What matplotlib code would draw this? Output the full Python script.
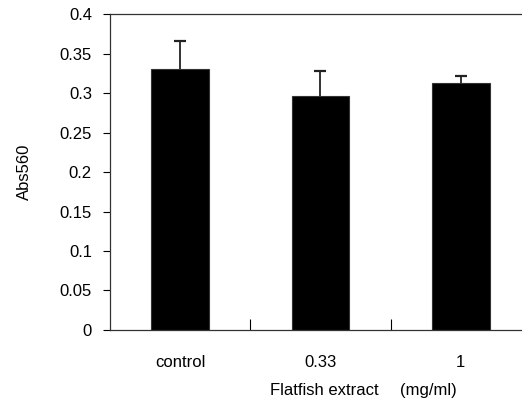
import matplotlib.pyplot as plt
import numpy as np

plt.rcParams["font.family"] = ["Liberation Sans", "DejaVu Sans"]

# Data
CATEGORIES = ["control", "0.33", "1"]
MEANS = [0.330, 0.296, 0.313]
ERRORS = [0.036, 0.032, 0.009]
Y_TICKS = [0, 0.05, 0.1, 0.15, 0.2, 0.25, 0.3, 0.35, 0.4]
Y_TICK_LABELS = ["0", "0.05", "0.1", "0.15", "0.2", "0.25", "0.3", "0.35", "0.4"]


def plot_absorbance():
    fig = plt.figure(figsize=(5.22, 4.05), dpi=100)
    ax = fig.add_axes([0.2107, 0.1852, 0.8065, 0.7802])

    x = np.arange(len(CATEGORIES))
    means = np.array(MEANS)
    tops = means + np.array(ERRORS)
    ax.bar(x, means, width=0.41, color="black", edgecolor="#333333", linewidth=0.8)

    # upper-only error bars
    ax.vlines(x, means, tops, color="#222222", linewidth=1.3)
    ax.plot(x, tops, linestyle="none", marker="_", markersize=8,
            markeredgewidth=1.6, color="#222222")

    ax.set_xlim(-0.5, len(CATEGORIES) - 0.5)
    ax.set_ylim(0, 0.4)
    ax.set_yticks(Y_TICKS)
    ax.set_yticklabels(Y_TICK_LABELS, fontsize=12)

    # category labels between ticks; ticks sit at the category boundaries
    ax.set_xticks(x[:-1] + 0.5)
    ax.set_xticklabels([])
    ax.set_xticks(x, minor=True)
    ax.set_xticklabels(CATEGORIES, minor=True, fontsize=12)
    ax.tick_params(axis="x", which="major", direction="in", length=8, width=0.8)
    ax.tick_params(axis="x", which="minor", length=0, pad=18)
    ax.tick_params(axis="y", direction="out", length=5, width=0.8, pad=8)

    for side in ["left", "bottom", "top", "right"]:
        ax.spines[side].set_linewidth(0.9)
        ax.spines[side].set_color("#333333")

    ax.set_ylabel("Abs560", fontsize=12, labelpad=20)
    fig.text(0.517, 0.037, "Flatfish extract", fontsize=12, ha="left", va="center")
    fig.text(0.766, 0.037, "(mg/ml)", fontsize=12, ha="left", va="center")

    fig.savefig("out.png", dpi=100)


def main():
    plot_absorbance()


if __name__ == "__main__":
    main()
